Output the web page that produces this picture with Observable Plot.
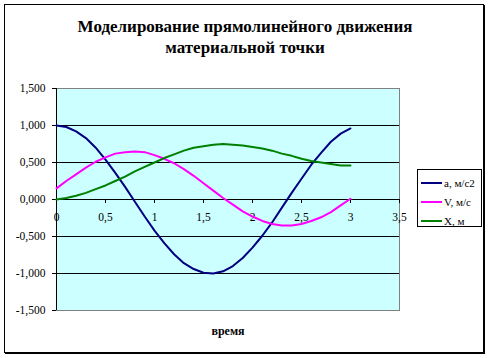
<!DOCTYPE html>
<html>
<head>
<meta charset="utf-8">
<script src="https://cdn.jsdelivr.net/npm/d3@7"></script>
<script src="https://cdn.jsdelivr.net/npm/@observablehq/plot@0.6"></script>
<style>
  html, body { margin: 0; padding: 0; background: #fff; }
  #chart { position: relative; width: 490px; height: 358px; overflow: hidden; background: #fff; }
  #border { position: absolute; left: 4px; top: 4px; width: 478px; height: 347px; border: 1px solid #000; box-shadow: 1px 1px 0 #000; }
  #title { position: absolute; left: 0; top: 16px; width: 490px; text-align: center; font: bold 17px "Liberation Serif", serif; line-height: 21px; color: #000; }
  #xlabel { position: absolute; left: 190px; top: 324px; width: 76px; text-align: center; font: bold 12px "Liberation Serif", serif; color: #000; }
  #legend { position: absolute; left: 417px; top: 169px; width: 65px; height: 58px; box-sizing: border-box; border: 1px solid #000; background: #fff; padding-top: 3px; }
  .row { height: 19px; display: flex; align-items: center; font: 11px "Liberation Serif", serif; color: #000; white-space: nowrap; }
  .sw { width: 21px; height: 2px; margin-left: 3px; margin-right: 2px; }
  #plot { position: absolute; left: 0; top: 0; }
</style>
</head>
<body>
<div id="chart">
  <div id="border"></div>
  <div id="plot"></div>
  <div id="title">Моделирование прямолинейного движения<br>материальной точки</div>
  <div id="xlabel">время</div>
  <div id="legend"></div>
</div>
<script>
const time = [0,0.1,0.2,0.3,0.4,0.5,0.6,0.7,0.8,0.9,1.0,1.1,1.2,1.3,1.4,1.5,1.6,1.7,1.8,1.9,2.0,2.1,2.2,2.3,2.4,2.5,2.6,2.7,2.8,2.9,3.0];
const accel = [1.00,0.98,0.92,0.83,0.70,0.54,0.36,0.17,-0.03,-0.23,-0.42,-0.59,-0.74,-0.86,-0.94,-0.99,-1.00,-0.97,-0.90,-0.79,-0.65,-0.49,-0.31,-0.11,0.09,0.28,0.47,0.63,0.78,0.89,0.96];
const velocity = [0.15,0.25,0.34,0.43,0.51,0.57,0.62,0.64,0.65,0.64,0.60,0.55,0.49,0.41,0.32,0.22,0.12,0.02,-0.07,-0.16,-0.23,-0.29,-0.33,-0.35,-0.35,-0.33,-0.29,-0.24,-0.17,-0.08,0.01];
const position = [0.00,0.02,0.05,0.09,0.14,0.19,0.25,0.31,0.38,0.44,0.50,0.56,0.61,0.66,0.70,0.72,0.74,0.75,0.74,0.73,0.71,0.69,0.66,0.62,0.59,0.55,0.52,0.50,0.48,0.46,0.46];
const seriesNames = ["a, м/с2", "V, м/с", "X, м"];
const seriesColors = ["#000080", "#FF00FF", "#008000"];
const xTicks = [0,0.5,1,1.5,2,2.5,3,3.5];
const yTicks = [-1.5,-1,-0.5,0,0.5,1,1.5];
const gridLines = [-1,-0.5,0.5,1];

const seriesValues = [accel, velocity, position];
const rows = [];
seriesNames.forEach((s, k) => time.forEach((t, i) => rows.push({s, t, v: seriesValues[k][i]})));

const loc = d3.formatLocale({decimal: ",", thousands: " ", grouping: [3], currency: ["", ""], minus: "-"});
const fmtY = loc.format(".3f");
const fmtX = d => String(d).replace(".", ",");

const svg = Plot.plot({
  width: 490,
  height: 358,
  marginLeft: 56,
  marginRight: 91,
  marginTop: 88,
  marginBottom: 48,
  style: {fontFamily: "'Liberation Serif', serif", fontSize: "11.5px", color: "#000", background: "transparent"},
  x: {domain: [0, 3.5], axis: null},
  y: {domain: [-1.5, 1.5]},
  color: {domain: seriesNames, range: seriesColors},
  marks: [
    Plot.frame({fill: "#CCFFFF", stroke: "#808080"}),
    Plot.ruleY(gridLines, {stroke: "#000", strokeWidth: 1}),
    Plot.ruleY([0], {stroke: "#000", strokeWidth: 1}),
    Plot.ruleX([0], {stroke: "#000", strokeWidth: 1}),
    Plot.axisY(yTicks, {anchor: "left", tickSize: 4, tickPadding: 7, tickFormat: fmtY, label: null, stroke: "#000", fill: "#000"}),
    Plot.ruleX(xTicks, {x: d => d, y1: 0, y2: 0, insetTop: 0, insetBottom: -4, stroke: "#000"}),
    Plot.text(xTicks, {x: d => d, y: 0, dy: 18, text: fmtX, fill: "#000", textAnchor: "middle"}),
    Plot.line(rows, {x: "t", y: "v", z: "s", stroke: "s", strokeWidth: 2})
  ]
});
document.getElementById("plot").appendChild(svg);

const legend = document.getElementById("legend");
seriesNames.forEach((name, i) => {
  const row = document.createElement("div");
  row.className = "row";
  const sw = document.createElement("div");
  sw.className = "sw";
  sw.style.background = seriesColors[i];
  const label = document.createElement("span");
  label.textContent = name;
  row.appendChild(sw);
  row.appendChild(label);
  legend.appendChild(row);
});
</script>
</body>
</html>
